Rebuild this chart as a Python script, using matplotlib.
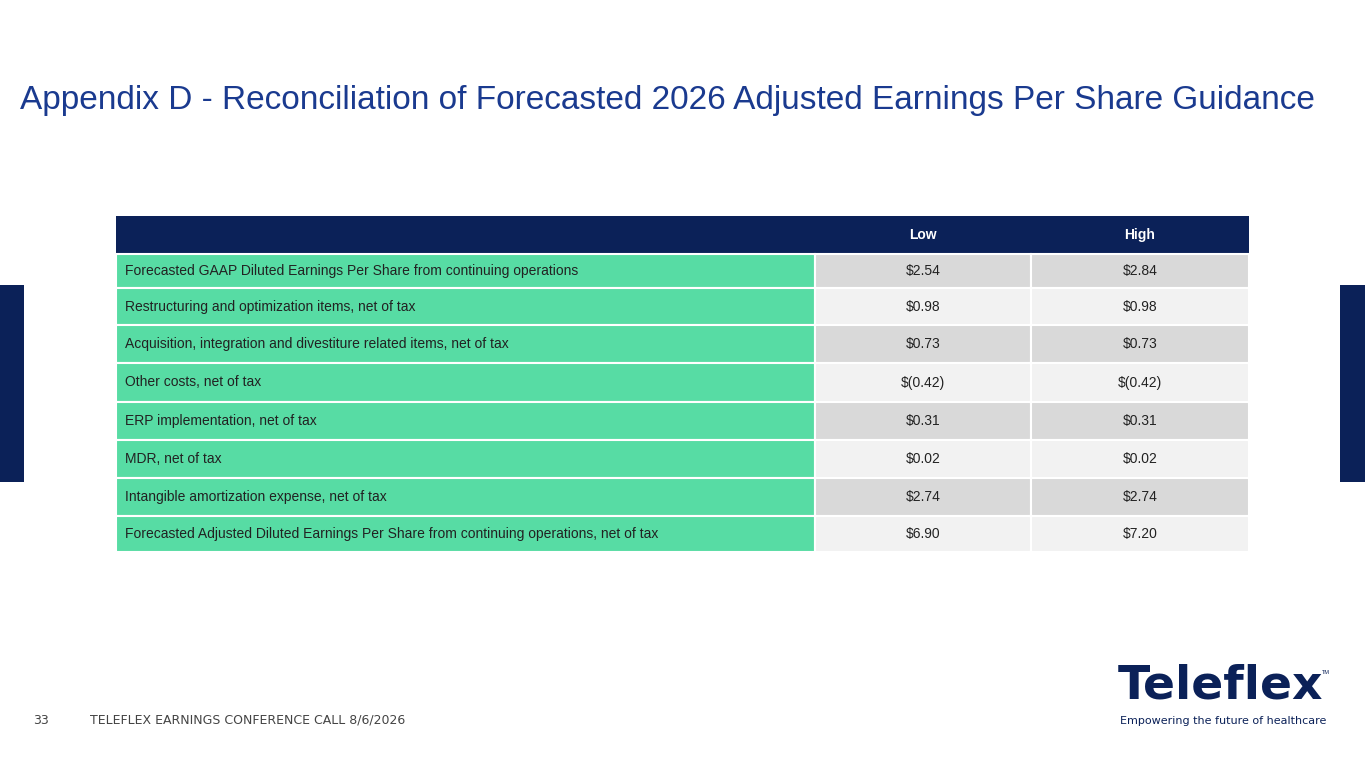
import matplotlib.pyplot as plt
from matplotlib.patches import Rectangle

navy = "#0b2158"
green = "#57dca4"
title_blue = "#1a3a8f"

rows = [
    ("Forecasted GAAP Diluted Earnings Per Share from continuing operations", "$2.54", "$2.84"),
    ("Restructuring and optimization items, net of tax", "$0.98", "$0.98"),
    ("Acquisition, integration and divestiture related items, net of tax", "$0.73", "$0.73"),
    ("Other costs, net of tax", "$(0.42)", "$(0.42)"),
    ("ERP implementation, net of tax", "$0.31", "$0.31"),
    ("MDR, net of tax", "$0.02", "$0.02"),
    ("Intangible amortization expense, net of tax", "$2.74", "$2.74"),
    ("Forecasted Adjusted Diluted Earnings Per Share from continuing operations, net of tax", "$6.90", "$7.20"),
]
row_edges = [254, 288, 325, 363, 402, 440, 478, 516, 552]
cols = [116, 815, 1031, 1249]

plt.rcParams['font.family'] = ['Liberation Sans', 'DejaVu Sans']

fig = plt.figure(figsize=(13.65, 7.68), dpi=100)
ax = fig.add_axes([0, 0, 1, 1])
ax.set_xlim(0, 1365)
ax.set_ylim(768, 0)
ax.axis("off")

ax.text(20, 100, "Appendix D - Reconciliation of Forecasted 2026 Adjusted Earnings Per Share Guidance",
        fontsize=24, color=title_blue, va="center", ha="left")

# side bars
ax.add_patch(Rectangle((0, 285), 24, 197, color=navy, lw=0))
ax.add_patch(Rectangle((1340, 285), 25, 197, color=navy, lw=0))

# header
ax.add_patch(Rectangle((cols[0], 216), cols[3] - cols[0], 38, color=navy, lw=0))
ax.text((cols[1] + cols[2]) / 2, 235, "Low", color="white", fontsize=10, weight="bold", ha="center", va="center")
ax.text((cols[2] + cols[3]) / 2, 235, "High", color="white", fontsize=10, weight="bold", ha="center", va="center")

for i, (label, lo, hi) in enumerate(rows):
    y0, y1 = row_edges[i], row_edges[i + 1]
    fill = "#d9d9d9" if i % 2 == 0 else "#f2f2f2"
    ax.add_patch(Rectangle((cols[0], y0), cols[1] - cols[0], y1 - y0, facecolor=green, edgecolor="white", lw=1.5))
    ax.add_patch(Rectangle((cols[1], y0), cols[2] - cols[1], y1 - y0, facecolor=fill, edgecolor="white", lw=1.5))
    ax.add_patch(Rectangle((cols[2], y0), cols[3] - cols[2], y1 - y0, facecolor=fill, edgecolor="white", lw=1.5))
    ym = (y0 + y1) / 2
    ax.text(cols[0] + 9, ym, label, fontsize=10, color="#222222", va="center", ha="left")
    ax.text((cols[1] + cols[2]) / 2, ym, lo, fontsize=10, color="#222222", va="center", ha="center")
    ax.text((cols[2] + cols[3]) / 2, ym, hi, fontsize=10, color="#222222", va="center", ha="center")

# footer
ax.text(33, 720, "33", fontsize=9, color="#444444", va="center", family="DejaVu Sans")
ax.text(90, 720, "TELEFLEX EARNINGS CONFERENCE CALL 8/6/2026", fontsize=9, color="#444444", va="center",
        family="DejaVu Sans")

# logo
ax.text(1118, 686, "Teleflex", fontsize=34, weight="bold", color=navy, va="center", ha="left",
        family="DejaVu Sans")
ax.text(1322, 672, "TM", fontsize=4, color=navy, va="center")
ax.text(1120, 721, "Empowering the future of healthcare", fontsize=8, color=navy, va="center", ha="left",
        family="DejaVu Sans")

fig.savefig("out.png", dpi=100)
